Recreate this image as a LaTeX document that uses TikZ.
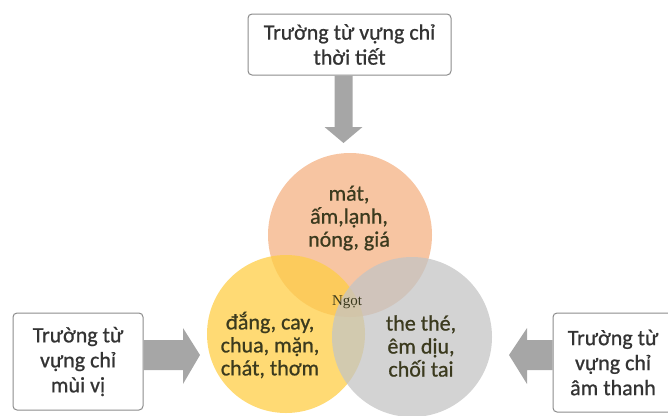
\documentclass[tikz,border=0pt]{standalone}
\usepackage{fontspec}
\setmainfont{Carlito}[FakeBold=0.8]
\newfontfamily\serifsmall{Liberation Serif}
\definecolor{boxline}{HTML}{8C8C8C}
\definecolor{arrowgrey}{HTML}{A6A6A6}
\definecolor{warmfill}{HTML}{F4B183}
\definecolor{sunfill}{HTML}{FFCE45}
\definecolor{ashfill}{HTML}{C4C4C4}
\definecolor{inktext}{HTML}{3B3A1E}
\definecolor{boxtext}{HTML}{333333}
\tikzset{
  fieldbox/.style={draw=boxline, line width=1pt, rounded corners=4pt, fill=white,
    align=center, text=boxtext, font=\fontsize{22}{25}\selectfont, inner sep=0pt},
  bigarrow/.style={fill=arrowgrey, draw=none},
  ring/.style={circle, minimum size=#1, inner sep=0pt, fill opacity=0.75, draw=none},
  ringtext/.style={align=center, text=inktext, font=\fontsize{22}{23}\selectfont}
}
\begin{document}
\begin{tikzpicture}[x=1pt,y=-1pt]
\useasboundingbox (0,0) rectangle (668,415);
% three overlapping fields
\node[ring=164pt, fill=warmfill] (warm) at (350,235) {};
\node[ring=158pt, fill=sunfill] (sun) at (286,334) {};
\node[ring=160pt, fill=ashfill] (ash) at (412,337) {};
\node[ringtext] (warmt) at (349,218) {mát,\\ấm,lạnh,\\nóng, giá};
\node[ringtext] (sunt) at (270,345) {đắng, cay,\\chua, mặn,\\chát, thơm};
\node[ringtext] (asht) at (421,346) {the thé,\\êm dịu,\\chối tai};
\node[text=inktext, font=\serifsmall\fontsize{15}{16}\selectfont] (core) at (347,302) {Ngọt};
% label boxes
\node[fieldbox, minimum width=203pt, minimum height=61pt] (top) at (349.5,44.5) {Trường từ vựng chỉ\\thời tiết};
\node[fieldbox, minimum width=130pt, minimum height=97pt] (left) at (78,361.5) {Trường từ\\vựng chỉ\\mùi vị};
\node[fieldbox, minimum width=120pt, minimum height=99pt] (right) at (613,362.5) {Trường từ\\vựng chỉ\\âm thanh};
% block arrows
\coordinate (ttip) at (343.5,143);
\coordinate (ltip) at (200,355);
\coordinate (rtip) at (509,355);
\fill[bigarrow] (334.5,0 |- top.south) -- (334.5,127) -- (324.5,127) -- (ttip) -- (362.5,127) -- (352.5,127) -- (352.5,0 |- top.south) -- cycle;
\fill[bigarrow] (left.east |- 0,340) -- (183,340) -- (183,328) -- (ltip) -- (183,384) -- (183,370) -- (left.east |- 0,370) -- cycle;
\fill[bigarrow] (right.west |- 0,340) -- (527,340) -- (527,328) -- (rtip) -- (527,384) -- (527,370) -- (right.west |- 0,370) -- cycle;
\end{tikzpicture}
\end{document}
